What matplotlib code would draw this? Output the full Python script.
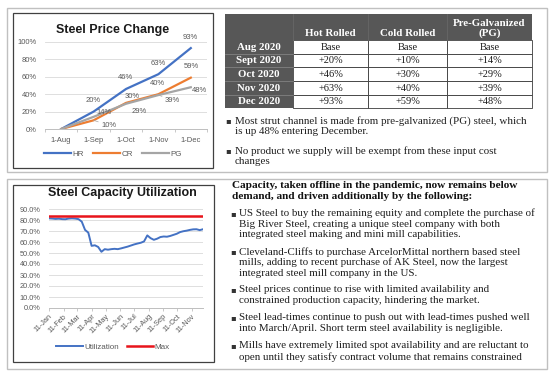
import matplotlib
matplotlib.use("Agg")
import matplotlib.pyplot as plt
import matplotlib.dates as mdates
from matplotlib.patches import Rectangle
import pandas as pd

W, H = 556, 377

# ---------------- data ----------------
months = ["1-Aug", "1-Sep", "1-Oct", "1-Nov", "1-Dec"]
hr = [0, 20, 46, 63, 93]
cr = [0, 10, 30, 40, 59]
pg = [0, 14, 29, 39, 48]

table_cols = ["Hot Rolled", "Cold Rolled", "Pre-Galvanized\n(PG)"]
table_rows = ["Aug 2020", "Sept 2020", "Oct 2020", "Nov 2020", "Dec 2020"]
table_hot = ["Base", "+20%", "+46%", "+63%", "+93%"]
table_cold = ["Base", "+10%", "+30%", "+40%", "+59%"]
table_pg = ["Base", "+14%", "+29%", "+39%", "+48%"]

util_first_week = "2020-01-11"
utilization = [81.5, 81.3, 81.0, 81.2, 80.8, 80.7, 81.3, 81.5, 81.3, 80.8,
               78.5, 71.0, 68.5, 56.5, 57.0, 55.5, 51.1, 53.5, 53.0, 53.5,
               53.8, 53.5, 54.2, 55.0, 55.8, 56.8, 57.8, 58.6, 59.3, 60.5,
               66.0, 63.5, 62.0, 63.0, 64.5, 65.0, 64.8, 65.5, 66.5, 67.5,
               69.0, 69.8, 70.3, 71.0, 71.5, 71.6, 70.8, 71.6]
max_util = 83.3

top_bullets = [
    ["Most strut channel is made from pre-galvanized (PG) steel, which",
     "is up 48% entering December."],
    ["No product we supply will be exempt from these input cost",
     "changes"],
]
bottom_heading = ["Capacity, taken offline in the pandemic, now remains below",
                  "demand, and driven additionally by the following:"]
bottom_bullets = [
    ["US Steel to buy the remaining equity and complete the purchase of",
     "Big River Steel, creating a unique steel company with both",
     "integrated steel making and mini mill capabilities."],
    ["Cleveland-Cliffs to purchase ArcelorMittal northern based steel",
     "mills, adding to recent purchase of AK Steel, now the largest",
     "integrated steel mill company in the US."],
    ["Steel prices continue to rise with limited availability and",
     "constrained production capacity, hindering the market."],
    ["Steel lead-times continue to push out with lead-times pushed well",
     "into March/April. Short term steel availability is negligible."],
    ["Mills have extremely limited spot availability and are reluctant to",
     "open until they satisfy contract volume that remains constrained"],
]

# ---------------- figure ----------------
plt.rcParams['font.family'] = ['Liberation Sans', 'DejaVu Sans']
fig = plt.figure(figsize=(W / 100, H / 100), dpi=100)
fig.patch.set_facecolor("white")

bg = fig.add_axes([0, 0, 1, 1])
bg.set_xlim(0, W)
bg.set_ylim(H, 0)
bg.axis("off")


def px_axes(x0, y0, x1, y1):
    return fig.add_axes([x0 / W, 1 - y1 / H, (x1 - x0) / W, (y1 - y0) / H])


def box(x0, y0, x1, y1, ec, lw=0.8, fc="none", z=1):
    bg.add_patch(Rectangle((x0, y0), x1 - x0, y1 - y0, fc=fc, ec=ec, lw=lw, zorder=z))


# outer panels and chart boxes
box(7, 8, 547, 172, "#c0c0c0", 1.0)
box(7, 179, 547, 369, "#c0c0c0", 1.0)
box(13, 13, 213, 168, "#404040", 0.9)
box(13, 185, 214, 362, "#404040", 0.9)

GRAY = "#595959"
C_HR, C_CR, C_PG = "#4472C4", "#ED7D31", "#A5A5A5"

# ---------------- price chart ----------------
bg.text(113, 30, "Steel Price Change", ha="center", va="center",
        fontsize=9, fontweight="bold", color="#1a1a1a")
ax1 = px_axes(45, 42, 207, 129)
x = list(range(len(months)))
ax1.plot(x, hr, color=C_HR, lw=1.6, label="HR", zorder=3)
ax1.plot(x, cr, color=C_CR, lw=1.6, label="CR", zorder=3)
ax1.plot(x, pg, color=C_PG, lw=1.6, label="PG", zorder=3)
ax1.set_xlim(-0.5, len(months) - 0.5)
ax1.set_ylim(0, 100)
ax1.set_yticks(range(0, 101, 20))
ax1.set_yticklabels([f"{v}%" for v in range(0, 101, 20)])
ax1.set_xticks(x)
ax1.set_xticklabels(months)
ax1.set_xticks([i - 0.5 for i in range(len(months) + 1)], minor=True)
ax1.tick_params(axis="both", which="major", length=0, labelsize=5.5,
                labelcolor=GRAY, pad=6)
ax1.tick_params(axis="x", which="minor", length=2.5, color="#bfbfbf", width=0.6)
ax1.grid(axis="y", color="#d9d9d9", lw=0.6)
for s in ["top", "right", "left"]:
    ax1.spines[s].set_visible(False)
ax1.spines["bottom"].set_color("#bfbfbf")
ax1.spines["bottom"].set_linewidth(0.7)
ax1.set_facecolor("none")

offs_hr = [None, (0, 11), (0, 11), (0, 11), (-1, 11)]
offs_cr = [None, (15, -5), (6, 6), (-1, 11), (1, 11)]
offs_pg = [None, (10, 4), (13, -8), (14, -5), (9, -3)]
leader_cr = [False, True, False, False, False]
leader_pg = [False, False, False, True, False]
for vals, offs, leads in [(hr, offs_hr, [False] * 5), (cr, offs_cr, leader_cr),
                          (pg, offs_pg, leader_pg)]:
    for i, v in enumerate(vals):
        if offs[i] is None:
            continue
        kw = {}
        if leads[i]:
            kw["arrowprops"] = dict(arrowstyle="-", color="#a6a6a6", lw=0.5,
                                    shrinkA=0, shrinkB=6)
        ax1.annotate(f"{v}%", (i, v), xytext=offs[i], textcoords="offset pixels",
                     ha="center", va="center", fontsize=5.5, color=GRAY,
                     annotation_clip=False, zorder=5, **kw)

leg1 = ax1.legend(loc="center", bbox_to_anchor=((113) / W, 1 - 154 / H),
                  bbox_transform=fig.transFigure, ncol=3, frameon=False,
                  fontsize=5.8, handlelength=3.3, handletextpad=0.15,
                  columnspacing=1.2)
for t in leg1.get_texts():
    t.set_color(GRAY)

# ---------------- table ----------------
SERIF = ['Liberation Serif', 'DejaVu Serif']
col_x = [225, 293, 368, 447, 532]
row_y = [14, 40, 53.5, 67, 81, 94.5, 108]
DARK = "#575757"
bg.add_patch(Rectangle((col_x[0], row_y[0]), col_x[-1] - col_x[0], row_y[1] - row_y[0],
                       fc=DARK, ec="none", zorder=2))
bg.add_patch(Rectangle((col_x[0], row_y[1]), col_x[1] - col_x[0], row_y[-1] - row_y[1],
                       fc=DARK, ec="none", zorder=2))
for r in range(2, len(row_y) - 1):
    bg.plot([col_x[0], col_x[1]], [row_y[r], row_y[r]], color="#8a8a8a", lw=0.5, zorder=3)
for c in range(1, len(col_x) - 1):
    bg.plot([col_x[c], col_x[c]], [row_y[0], row_y[1]], color="#6a6a6a", lw=0.5, zorder=3)
columns = [table_hot, table_cold, table_pg]
for c, colvals in enumerate(columns):
    for r, val in enumerate(colvals):
        x0, x1 = col_x[c + 1], col_x[c + 2]
        y0, y1 = row_y[r + 1], row_y[r + 2]
        bg.add_patch(Rectangle((x0, y0), x1 - x0, y1 - y0, fc="white",
                               ec="#3a3a3a", lw=0.6, zorder=2))
        bg.text((x0 + x1) / 2, (y0 + y1) / 2 + 0.5, val, ha="center", va="center",
                fontsize=7.5, family=SERIF, color="#1a1a1a", zorder=4)
for c, name in enumerate(table_cols):
    bg.text((col_x[c + 1] + col_x[c + 2]) / 2, row_y[1] - 2, name, ha="center",
            va="bottom", fontsize=7.8, family=SERIF, fontweight="bold",
            color="white", linespacing=1.1, multialignment="center", zorder=4)
for r, name in enumerate(table_rows):
    bg.text((col_x[0] + col_x[1]) / 2, (row_y[r + 1] + row_y[r + 2]) / 2 + 0.5, name,
            ha="center", va="center", fontsize=7.8, family=SERIF,
            fontweight="bold", color="white", zorder=4)

# ---------------- text blocks ----------------
TXT = "#1f1f1f"


def bullets(paras, starts, bx, tx, lsp, size):
    for lines, y in zip(paras, starts):
        bg.text(bx, y, "\u25aa", ha="center", va="center", fontsize=6,
                family=["DejaVu Sans"], color="#333333")
        for k, line in enumerate(lines):
            bg.text(tx, y + k * lsp, line, ha="left", va="center", fontsize=size,
                    family=SERIF, color=TXT)


bullets(top_bullets, [121, 151], 228, 235, 10.2, 7.95)

for k, line in enumerate(bottom_heading):
    bg.text(232, 186 + k * 10.8, line, ha="left", va="center", fontsize=8.1,
            family=SERIF, fontweight="bold", color="#111111")
bullets(bottom_bullets, [213.3, 251.7, 290, 317.3, 346], 233, 239, 10.8, 7.9)

# ---------------- utilization chart ----------------
bg.text(122, 193, "Steel Capacity Utilization", ha="center", va="center",
        fontsize=9, fontweight="bold", color="#1a1a1a")
ax2 = px_axes(49, 209, 203, 308)
dates = pd.date_range(util_first_week, periods=len(utilization), freq="7D")
ax2.plot(dates, utilization, color=C_HR, lw=1.4, label="Utilization", zorder=3)
ax2.plot(dates, [max_util] * len(dates), color="#E8141B", lw=1.8, label="Max", zorder=3)
ax2.set_xlim(dates[0], dates[-1])
ax2.set_ylim(0, 90)
ax2.set_yticks(range(0, 91, 10))
ax2.set_yticklabels([f"{v:.1f}%" for v in range(0, 91, 10)])
tick_dates = pd.date_range(util_first_week, dates[-1], freq=pd.DateOffset(months=1))
ax2.set_xticks(tick_dates)
ax2.xaxis.set_major_formatter(mdates.DateFormatter("%d-%b"))
ax2.tick_params(axis="y", length=0, labelsize=5.3, labelcolor=GRAY, pad=6)
ax2.tick_params(axis="x", length=2.5, color="#bfbfbf", width=0.6, labelsize=5.3,
                labelcolor=GRAY, pad=1)
for lab in ax2.get_xticklabels():
    lab.set_rotation(45)
    lab.set_ha("right")
    lab.set_rotation_mode("anchor")
ax2.grid(axis="y", color="#d9d9d9", lw=0.6)
for s in ["top", "right", "left"]:
    ax2.spines[s].set_visible(False)
ax2.spines["bottom"].set_color("#bfbfbf")
ax2.spines["bottom"].set_linewidth(0.7)
ax2.set_facecolor("none")

leg2 = ax2.legend(loc="center", bbox_to_anchor=(113 / W, 1 - 347 / H),
                  bbox_transform=fig.transFigure, ncol=2, frameon=False,
                  fontsize=5.8, handlelength=3.3, handletextpad=0.15,
                  columnspacing=1.0)
for t in leg2.get_texts():
    t.set_color(GRAY)

fig.savefig("out.png", dpi=100, facecolor="white")
